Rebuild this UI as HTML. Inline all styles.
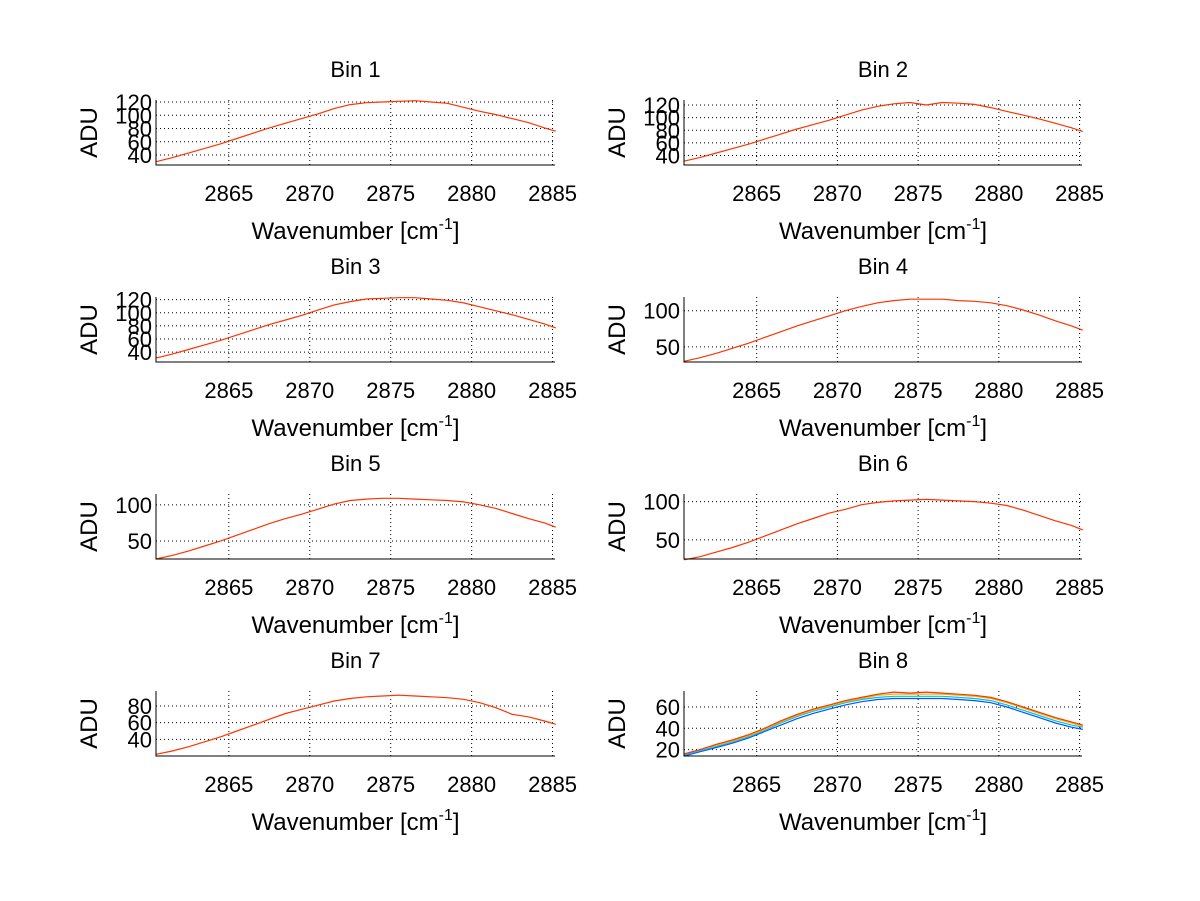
<!DOCTYPE html>
<html><head><meta charset="utf-8"><style>
body{margin:0;background:#fff;}
svg{display:block;font-family:"Liberation Sans",Arial,sans-serif;}
</style></head><body>
<svg id="fig" width="1200" height="901" viewBox="0 0 1200 901" xmlns="http://www.w3.org/2000/svg"></svg>
<script>
const xs = [2860.5,2861.5,2862.5,2863.5,2864.5,2865.5,2866.5,2867.5,2868.5,2869.5,2870.5,2871.5,2872.5,2873.5,2874.5,2875.5,2876.5,2877.5,2878.5,2879.5,2880.5,2881.5,2882.5,2883.5,2884.5,2885.2];
const bin1 = [30,36,43,50,57,65,73,81,88,95,102,110,116,119,120,121,122,120,118,112,106,101,95,89,81,76];
const bin2 = [31,37,44,51,58,66,74,82,89,96,104,112,118,122,124,120,124,123,121,116,110,104,98,91,84,78];
const bin3 = [31,37,44,51,58,66,74,82,89,96,104,112,117,121,122,123,123,121,119,115,109,103,97,90,83,77];
const bin4 = [30,35,41,48,55,63,71,79,86,93,100,106,111,114,116,116,116,114,113,111,107,101,94,86,79,73];
const bin5 = [25,30,36,43,50,58,66,74,81,87,94,101,106,108,109,109,108,107,106,104,100,95,88,81,75,69];
const bin6 = [24,28,34,40,47,55,63,71,78,85,90,96,99,101,102,103,102,101,100,98,95,89,82,75,69,63];
const bin7 = [22,26,31,37,43,50,57,64,71,76,81,86,89,91,92,93,92,91,90,88,84,78,70,67,62,58];
const bin8a = [14,18,22,26,31,37,43,49,54,58,62,65,67,68,68,68,68,67,66,64,60,55,50,45,41,39];
const bin8b = [15,19,23,27,32,38,45,51,56,60,64,67,69,70,70,70,70,69,68,66,62,57,52,47,43,41];
const bin8c = [16,20,24,28,33,39,46,52,57,61,65,68,71,72,72,72,72,71,70,68,64,59,54,49,45,42];
const bin8d = [16,20,25,29,34,40,47,53,58,62,66,69,72,74,73,74,73,72,71,69,65,60,55,50,46,43];
const xTicks = [2865,2870,2875,2880,2885];
const titles = ["Bin 1","Bin 2","Bin 3","Bin 4","Bin 5","Bin 6","Bin 7","Bin 8"];
const series = [[bin1],[bin2],[bin3],[bin4],[bin5],[bin6],[bin7],[bin8a,bin8b,bin8c,bin8d]];
const ylims = [[25,123],[25,128],[25,124],[29,119],[25,115],[25,110],[20,98],[14,75]];
const yTicks = [[40,60,80,100,120],[40,60,80,100,120],[40,60,80,100,120],[50,100],[50,100],[50,100],[40,60,80],[20,40,60]];
const colors1 = ["#ff3300"];
const colors8 = ["#0055ff","#00bfff","#e0c000","#ff3300"];
const NS="http://www.w3.org/2000/svg";
const svg=document.getElementById('fig');
function el(tag,attrs,parent){const e=document.createElementNS(NS,tag);for(const k in attrs)e.setAttribute(k,attrs[k]);(parent||svg).appendChild(e);return e;}
const XMIN=2860.5, XMAX=2885.15;
for(let i=0;i<8;i++){
  const col=i%2,row=Math.floor(i/2);
  const L=col?684:156,R=col?1082:555,T=100+row*197,B=T+65;
  const g=el('g',{});
  
  
  const sx=v=>L+(v-XMIN)/(XMAX-XMIN)*(R-L);
  const [y0,y1]=ylims[i];
  const sy=v=>B-(v-y0)/(y1-y0)*(B-T);
  xTicks.forEach(t=>{
    const x=sx(t);
    const gl=el('line',{x1:x,x2:x,y1:T,y2:B,stroke:'#000','stroke-width':1,'stroke-dasharray':'1,3'},g);
    
    
    const tl=el('text',{x:x,y:B+36,'font-size':22,'text-anchor':'middle'},g);
    tl.textContent=t;
    
    
  });
  yTicks[i].forEach(t=>{
    const y=sy(t);
    const gl=el('line',{x1:L,x2:R,y1:y,y2:y,stroke:'#000','stroke-width':1,'stroke-dasharray':'1,3'},g);
    
    
    const tl=el('text',{x:L-4,y:y+8,'font-size':22,'text-anchor':'end'},g);
    tl.textContent=t;
    
    
  });
  const cols=series[i].length>1?colors8:colors1;
  series[i].forEach((s,k)=>{
    const pts=s.map((v,j)=>sx(xs[j]).toFixed(1)+','+sy(v).toFixed(1)).join(' ');
    const pl=el('polyline',{points:pts,fill:'none',stroke:cols[k],'stroke-width':1.2},g);
    
    
  });
  const ax=el('path',{d:`M${L},${T} V${B} H${R}`,fill:'none',stroke:'#000','stroke-width':1},g);
  
  
  const ti=el('text',{x:(L+R)/2,y:T-23,'font-size':22,'text-anchor':'middle'},g);
  ti.textContent=titles[i];
  
  
  const yl=el('text',{x:0,y:0,'font-size':24,'text-anchor':'middle',transform:`translate(${L-59},${(T+B)/2}) rotate(-90)`},g);
  yl.textContent='ADU';
  
  
  const xl=el('text',{x:(L+R)/2,y:B+74,'font-size':24,'text-anchor':'middle'},g);
  xl.innerHTML='Wavenumber [cm<tspan dy="-10" font-size="16">-1</tspan><tspan dy="10">]</tspan>';
  
  
}
</script>
</body></html>
